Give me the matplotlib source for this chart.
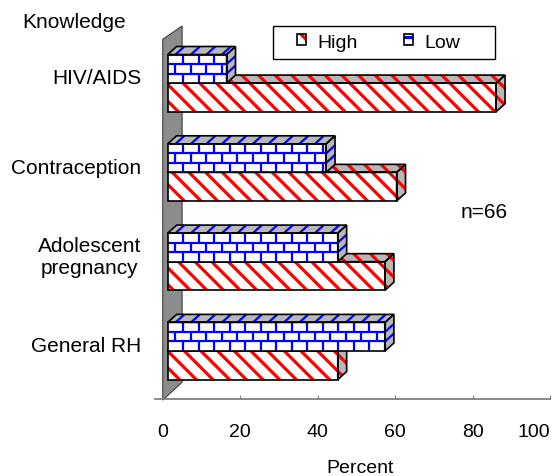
import numpy as np
import matplotlib.pyplot as plt
from matplotlib.patches import Polygon, Patch, Rectangle
from matplotlib.collections import LineCollection
from matplotlib.transforms import ScaledTranslation
from matplotlib.legend_handler import HandlerTuple

# data (percent of n=66 respondents)
categories = ["HIV/AIDS", "Contraception", "Adolescent\npregnancy", "General RH"]
high = [84.8, 59.1, 56.1, 43.9]
low = [15.2, 40.9, 43.9, 56.1]
xticks = [0, 20, 40, 60, 80, 100]

plt.rcParams.update({"font.family": ["Liberation Sans", "DejaVu Sans"], "font.size": 15,
                     "hatch.linewidth": 2.3})

RED, BLUE, GREY, WALL = "#ff0000", "#0000ff", "#b8b8b8", "#8c8c8c"
BAR_H = 0.32
DX, DY = 2.3, 0.09          # 3-D depth of bars, data units
BRICK_W = 4.0

fig = plt.figure(figsize=(5.53, 4.77), dpi=100)
ax = fig.add_axes([155 / 553, 77 / 477, 395 / 553, 380 / 477])
ax.set_xlim(-2, 100)
ax.set_ylim(-0.5375, 3.718)
shift = ax.transData + ScaledTranslation(0.05, 0, fig.dpi_scale_trans)

# side wall
ax.add_patch(Polygon([(0, -0.55), (0, 3.49), (5.0, 3.64), (5.0, -0.35)], closed=True,
                     facecolor=WALL, edgecolor="#404040", lw=0.8, zorder=1, clip_on=False))


def faces(x1, y0, h):
    front = [(0, y0), (x1, y0), (x1, y0 + h), (0, y0 + h)]
    top = [(0, y0 + h), (x1, y0 + h), (x1 + DX, y0 + h + DY), (DX, y0 + h + DY)]
    side = [(x1, y0), (x1 + DX, y0 + DY), (x1 + DX, y0 + h + DY), (x1, y0 + h)]
    return front, top, side


def outline(pts, z):
    ax.add_patch(Polygon(pts, closed=True, fill=False, edgecolor="black", lw=1.2,
                         transform=shift, zorder=z))


def bricks(x1, y0, h, rows=3):
    rh = h / rows
    segs = [[(0, y0 + k * rh), (x1, y0 + k * rh)] for k in range(1, rows)]
    for k in range(rows):
        start = ((k + 1) % 2) * BRICK_W / 2
        for x in np.arange(start + BRICK_W / 2, x1, BRICK_W):
            segs.append([(x, y0 + k * rh), (x, y0 + (k + 1) * rh)])
    for x in np.arange(BRICK_W / 2, x1, BRICK_W):
        segs.append([(x, y0 + h), (x + DX, y0 + h + DY)])
    for k in range(1, rows):
        segs.append([(x1, y0 + k * rh), (x1 + DX, y0 + k * rh + DY)])
    return segs


ypos = np.arange(len(categories))[::-1]
for y, hv, lv in zip(ypos, high, low):
    # High: red diagonal stripes
    front, top, side = faces(hv, y - BAR_H, BAR_H)
    for pts, fc in [(front, "white"), (top, GREY), (side, GREY)]:
        ax.add_patch(Polygon(pts, closed=True, facecolor=fc, edgecolor=RED, hatch="\\\\",
                             lw=0, transform=shift, zorder=2))
        outline(pts, 2.1)
    # Low: blue bricks
    front, top, side = faces(lv, y, BAR_H)
    for pts, fc in [(front, "white"), (top, GREY), (side, GREY)]:
        ax.add_patch(Polygon(pts, closed=True, facecolor=fc, edgecolor="none",
                             transform=shift, zorder=3))
    ax.add_collection(LineCollection(bricks(lv, y, BAR_H), colors=BLUE, lw=1.6,
                                     transform=shift, zorder=3.05))
    for pts in (front, top, side):
        outline(pts, 3.1)

for y, lab in zip(ypos, categories):
    ax.text(-0.035, y + 0.06, lab, transform=ax.get_yaxis_transform(), ha="right",
            va="center", multialignment="center")

ax.set_xticks(xticks)
ax.set_yticks([])
ax.tick_params(axis="x", direction="in", length=3, color="#808080", pad=17, labelsize=14)
ax.get_xticklabels()[-1].set_horizontalalignment("right")
for s in ("left", "top", "right"):
    ax.spines[s].set_visible(False)
ax.spines["bottom"].set_color("#808080")
ax.spines["bottom"].set_linewidth(1.3)

fig.text(22 / 553, 1 - 22 / 477, "Knowledge", va="center")
fig.text(484 / 553, 1 - 213 / 477, "n=66", ha="center", va="center")
fig.text(360 / 553, 1 - 469 / 477, "Percent", ha="center", va="center", fontsize=14)

# legend
fig.patches.append(Rectangle((273 / 553, 1 - 60 / 477), 222 / 553, 33 / 477,
                             transform=fig.transFigure, facecolor="white",
                             edgecolor="black", lw=1.0, zorder=4))
h_high = (Patch(facecolor="white", edgecolor=RED, hatch="\\\\", lw=0),
          Patch(facecolor="none", edgecolor="black", lw=1.2))
h_low = (Patch(facecolor="white", edgecolor=BLUE, hatch="--", lw=0),
         Patch(facecolor="none", edgecolor="black", lw=1.2))
fig.legend([h_high, h_low], ["High", "Low"], handler_map={tuple: HandlerTuple()},
           loc="center left", bbox_to_anchor=(297 / 553, 1 - 43 / 477), ncol=2,
           frameon=False, borderaxespad=0, borderpad=0, handlelength=0.45,
           handleheight=0.45, handletextpad=0.6, columnspacing=2.4, fontsize=14)

fig.savefig("out.png", dpi=100)
